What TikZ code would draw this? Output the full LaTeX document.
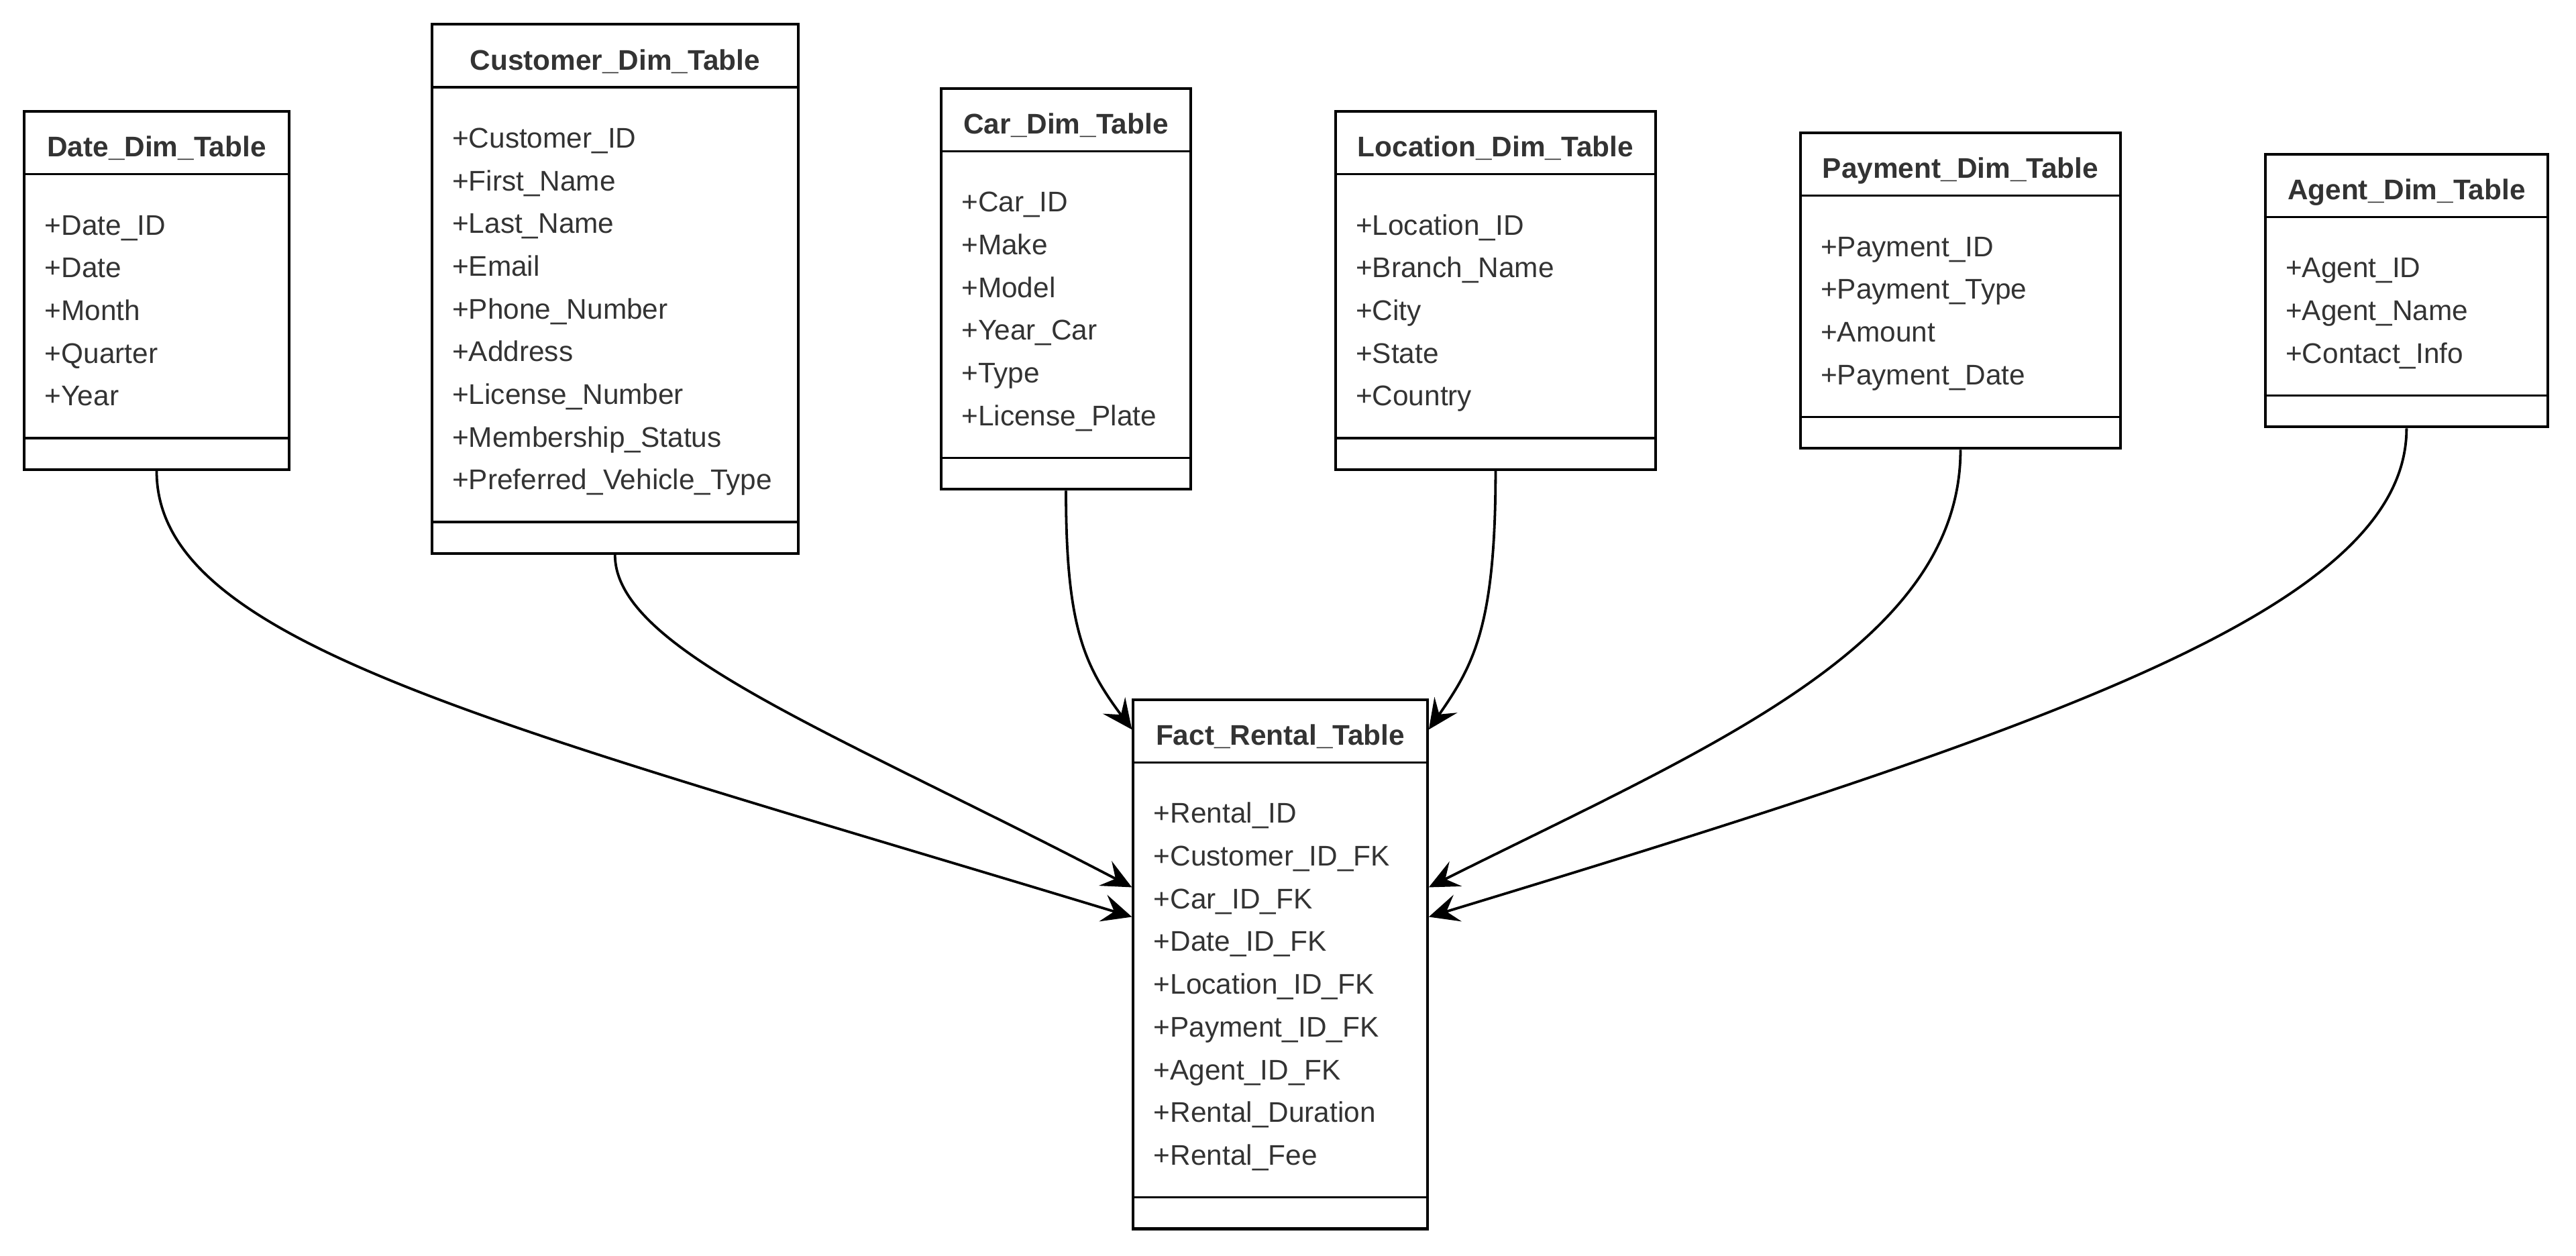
\documentclass[tikz,border=0pt]{standalone}
\usepackage{fontspec}
\setmainfont{Liberation Sans}
\usetikzlibrary{calc,arrows.meta}
\definecolor{txt-gray}{RGB}{51,51,51}
\tikzset{
	tablebox/.style={draw,line width=1.2pt,fill=white,anchor=north west,inner sep=0pt},
	tableline/.style={line width=1pt},
	tabletitle/.style={anchor=base,inner sep=0pt,text=txt-gray,font=\fontsize{12.3}{14}\selectfont\bfseries},
	attr/.style={anchor=base west,inner sep=0pt,text=txt-gray,font=\fontsize{12.3}{14}\selectfont},
	link/.style={line width=1.1pt,-{Stealth[length=13pt,width=12pt,inset=5pt]}}
}
% #1 name, #2 left, #3 top, #4 width, #5 number of rows, #6 title, #7 attributes
\newcommand{\DbTable}[7]{
	\node[tablebox,minimum width=#4*0.025cm,minimum height=(88+26*#5)*0.025cm] (#1) at (#2,#3) {};
	%title
	\node[tabletitle] (#1-title) at ($(#1.north)+(0,28.5)$) {#6};
	\draw[tableline] ($(#1.north west)+(0,39)$) -- ($(#1.north east)+(0,39)$);
	%attributes
	\foreach \a [count=\i] in {#7}{
		\node[attr] (#1-\i) at ($(#1.north west)+(13,50+26*\i)$) {\a};
	}
	%empty methods part
	\draw[tableline] ($(#1.south west)+(0,-20)$) -- ($(#1.south east)+(0,-20)$);
}
\begin{document}
\begin{tikzpicture}[x=0.025cm,y=-0.025cm]
	\useasboundingbox (0,0) rectangle (1568,764);

	%dimension tables
	\DbTable{date}{14}{67}{161}{5}{Date\_Dim\_Table}{+Date\_ID,+Date,+Month,+Quarter,+Year}
	\DbTable{customer}{262}{14}{223}{9}{Customer\_Dim\_Table}{+Customer\_ID,+First\_Name,+Last\_Name,+Email,+Phone\_Number,+Address,+License\_Number,+Membership\_Status,+Preferred\_Vehicle\_Type}
	\DbTable{car}{572}{53}{152}{6}{Car\_Dim\_Table}{+Car\_ID,+Make,+Model,+Year\_Car,+Type,+License\_Plate}
	\DbTable{location}{812}{67}{195}{5}{Location\_Dim\_Table}{+Location\_ID,+Branch\_Name,+City,+State,+Country}
	\DbTable{payment}{1095}{80}{195}{4}{Payment\_Dim\_Table}{+Payment\_ID,+Payment\_Type,+Amount,+Payment\_Date}
	\DbTable{agent}{1378}{93}{172}{3}{Agent\_Dim\_Table}{+Agent\_ID,+Agent\_Name,+Contact\_Info}

	%fact table
	\DbTable{fact}{689}{425}{179}{9}{Fact\_Rental\_Table}{+Rental\_ID,+Customer\_ID\_FK,+Car\_ID\_FK,+Date\_ID\_FK,+Location\_ID\_FK,+Payment\_ID\_FK,+Agent\_ID\_FK,+Rental\_Duration,+Rental\_Fee}

	%arrow ends on the fact table
	\coordinate (in-date) at ($(fact.north west)+(0,133)$);
	\coordinate (in-customer) at ($(fact.north west)+(0,115)$);
	\coordinate (in-car) at ($(fact.north west)+(0,19)$);
	\coordinate (in-location) at ($(fact.north east)+(0,19)$);
	\coordinate (in-payment) at ($(fact.north east)+(0,115)$);
	\coordinate (in-agent) at ($(fact.north east)+(0,133)$);

	%links
	\draw[link] (date.south) .. controls +(0,105) and +(-389,-118) .. (in-date);
	\draw[link] (customer.south) .. controls +(0,58) and +(-180,-94) .. (in-customer);
	\draw[link] (car.south) .. controls +(0,83) and +(-29,-39) .. (in-car);
	\draw[link] (location.south) .. controls +(0,95) and +(27,-39) .. (in-location);
	\draw[link] (payment.south) .. controls +(0,119) and +(170,-85) .. (in-payment);
	\draw[link] (agent.south) .. controls +(0,107) and +(389,-118) .. (in-agent);
\end{tikzpicture}
\end{document}
